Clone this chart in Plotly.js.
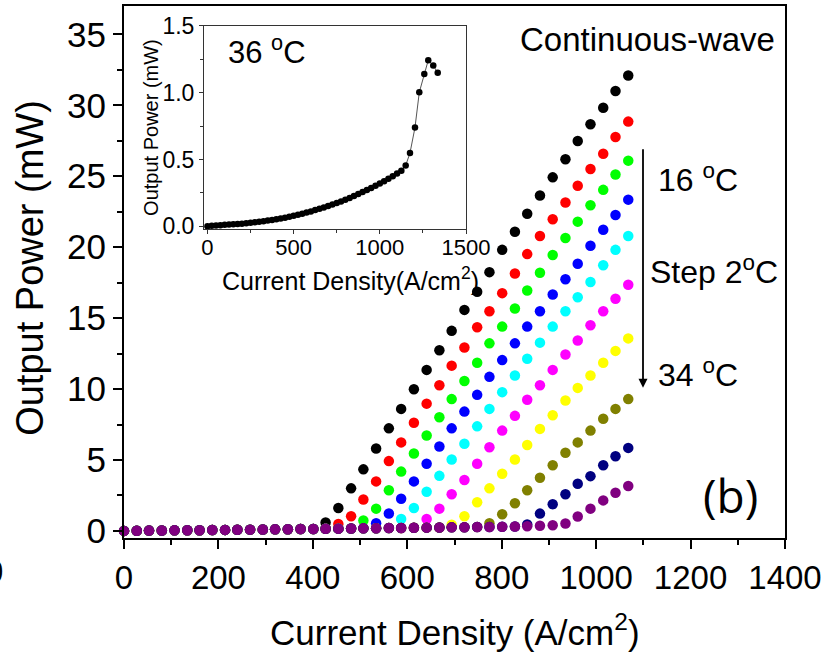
<!DOCTYPE html>
<html>
<head>
<meta charset="utf-8">
<script src="https://cdn.plot.ly/plotly-3.0.1.min.js"></script>
<style>html,body{margin:0;padding:0;background:#fff;}#plot{width:835px;height:653px;}</style>
</head>
<body>
<div id="plot"></div>
<script>
// Current density grid (A/cm^2)
var currentDensity = [0,27,53,80,107,134,160,187,214,240,267,294,320,347,374,401,427,454,481,507,534,561,587,614,641,668,694,721,748,774,801,828,854,881,908,935,961,988,1015,1041,1068];

var temperatures = ["16 °C","18 °C","20 °C","22 °C","24 °C","26 °C","28 °C","30 °C","32 °C","34 °C"];

var p16 = [0,0.01,0.02,0.03,0.04,0.05,0.05,0.06,0.07,0.08,0.09,0.10,0.11,0.12,0.13,0.14,0.59,1.62,3.00,4.34,5.81,7.23,8.60,9.98,11.35,12.73,14.10,15.58,16.86,18.24,19.81,21.09,22.36,23.64,24.92,26.20,27.48,28.66,29.83,31.01,32.10];
var p18 = [0,0.01,0.02,0.03,0.04,0.05,0.05,0.06,0.07,0.08,0.09,0.10,0.11,0.12,0.13,0.14,0.15,0.49,1.03,2.21,3.49,4.92,6.24,7.62,8.97,10.27,11.65,12.93,14.35,15.48,16.76,18.14,19.51,20.79,21.97,23.15,24.33,25.51,26.59,27.77,28.85];
var p20 = [0,0.01,0.02,0.03,0.04,0.05,0.05,0.06,0.07,0.08,0.09,0.10,0.11,0.12,0.13,0.14,0.15,0.16,0.17,0.74,1.57,2.86,4.18,5.46,6.73,8.01,9.29,10.57,11.85,13.22,14.40,15.68,16.95,18.20,19.45,20.65,21.80,22.95,24.04,25.12,26.10];
var p22 = [0,0.01,0.02,0.03,0.04,0.05,0.05,0.06,0.07,0.08,0.09,0.10,0.11,0.12,0.13,0.14,0.15,0.16,0.17,0.18,0.54,1.23,2.27,3.49,4.73,5.95,7.23,8.41,9.59,10.86,12.04,13.22,14.40,15.48,16.66,17.74,18.83,20.10,21.23,22.27,23.35];
var p24 = [0,0.01,0.02,0.03,0.04,0.05,0.05,0.06,0.07,0.08,0.09,0.10,0.11,0.12,0.13,0.14,0.15,0.16,0.17,0.18,0.19,0.20,0.84,1.62,2.76,3.88,5.03,6.14,7.37,8.60,9.78,10.96,12.14,13.27,14.40,15.48,16.47,17.55,18.73,19.81,20.79];
var p26 = [0,0.01,0.02,0.03,0.04,0.05,0.05,0.06,0.07,0.08,0.09,0.10,0.11,0.12,0.13,0.14,0.15,0.16,0.17,0.18,0.19,0.20,0.21,0.22,0.84,1.57,2.58,3.59,4.73,5.90,7.07,8.11,9.25,10.27,11.35,12.44,13.42,14.50,15.48,16.37,17.35];
var p28 = [0,0.01,0.02,0.03,0.04,0.05,0.05,0.06,0.07,0.08,0.09,0.10,0.11,0.12,0.13,0.14,0.15,0.16,0.17,0.18,0.19,0.20,0.21,0.22,0.23,0.24,0.44,1.03,2.02,3.00,4.03,5.03,6.05,7.19,8.15,9.19,10.08,10.96,11.85,12.69,13.57];
var p30 = [0,0.01,0.02,0.03,0.04,0.05,0.05,0.06,0.07,0.08,0.09,0.10,0.11,0.12,0.13,0.14,0.15,0.16,0.17,0.18,0.19,0.20,0.21,0.22,0.23,0.24,0.25,0.26,0.27,0.54,1.17,1.95,2.86,3.75,4.63,5.51,6.24,7.07,7.91,8.60,9.29];
var p32 = [0,0.01,0.02,0.03,0.04,0.05,0.05,0.06,0.07,0.08,0.09,0.10,0.11,0.12,0.13,0.14,0.15,0.16,0.17,0.18,0.19,0.20,0.21,0.22,0.23,0.24,0.25,0.26,0.27,0.28,0.29,0.31,0.45,1.22,1.88,2.58,3.32,3.86,4.63,5.26,5.85];
var p34 = [0,0.01,0.02,0.03,0.04,0.05,0.05,0.06,0.07,0.08,0.09,0.10,0.11,0.12,0.13,0.14,0.15,0.16,0.17,0.18,0.19,0.20,0.21,0.22,0.23,0.24,0.25,0.26,0.27,0.28,0.29,0.31,0.33,0.36,0.40,0.52,1.01,1.57,2.15,2.69,3.16];

var seriesColors = ["#000000","#ff0000","#00ff00","#0000ff","#00ffff","#ff00ff","#ffff00","#808000","#000080","#800080"];

// Inset: 36 °C
var insetJ = [0,25,50,75,100,125,150,175,200,225,250,275,300,325,350,375,400,425,450,475,500,525,550,575,600,625,650,675,700,725,750,775,800,825,850,875,900,925,950,975,1000,1025,1050,1075,1100,1125,1150,1175,1204,1229,1258,1281,1310,1336];
var insetP = [0,0.003,0.006,0.008,0.010,0.012,0.014,0.017,0.019,0.022,0.025,0.029,0.033,0.037,0.042,0.047,0.052,0.058,0.064,0.071,0.078,0.086,0.094,0.102,0.111,0.121,0.130,0.140,0.151,0.162,0.174,0.186,0.199,0.212,0.226,0.241,0.256,0.271,0.287,0.303,0.320,0.337,0.355,0.374,0.394,0.416,0.455,0.548,0.739,1.003,1.140,1.244,1.204,1.149];

var xTicks = [0,200,400,600,800,1000,1200,1400];
var yTicks = [0,5,10,15,20,25,30,35];
var insetXTicks = [0,500,1000,1500];
var insetYTicks = [0,0.5,1.0,1.5];
var insetYTickText = ["0.0","0.5","1.0","1.5"];

var allP = [p16,p18,p20,p22,p24,p26,p28,p30,p32,p34];
var traces = [];
for (var i = 0; i < allP.length; i++) {
  traces.push({
    x: currentDensity, y: allP[i], type: 'scatter', mode: 'markers',
    name: temperatures[i], cliponaxis: false,
    marker: {color: seriesColors[i], size: 10.5, line: {width: 0}},
    xaxis: 'x', yaxis: 'y', showlegend: false
  });
}
traces.push({
  x: insetJ, y: insetP, type: 'scatter', mode: 'lines+markers',
  line: {color: '#555555', width: 1},
  marker: {color: '#000000', size: 6.5},
  xaxis: 'x2', yaxis: 'y2', showlegend: false, cliponaxis: false
});

var F = 'Liberation Sans, Arial, sans-serif';
var px = function(x){ return (x - 124) / 661; };
var py = function(y){ return (538.3 - y) / 532.3; };

var layout = {
  width: 835, height: 653,
  margin: {l: 124, r: 50, t: 6, b: 115},
  paper_bgcolor: '#fff', plot_bgcolor: '#fff',
  font: {family: F, color: '#000'},
  xaxis: {
    range: [0, 1400], tickvals: xTicks, ticks: 'outside', ticklen: 9, tickwidth: 2, tickcolor: '#000',
    showline: true, linewidth: 2, linecolor: '#000', mirror: true, showgrid: false, zeroline: false,
    tickfont: {size: 33, family: F}, minor: {tickvals: [100,300,500,700,900,1100,1300], ticks: 'outside', ticklen: 5, tickwidth: 2, tickcolor: '#000'}
  },
  yaxis: {
    range: [-0.5, 37], tickvals: yTicks, ticks: 'outside', ticklen: 9, tickwidth: 2, tickcolor: '#000',
    showline: true, linewidth: 2, linecolor: '#000', mirror: true, showgrid: false, zeroline: false,
    tickfont: {size: 35, family: F}, minor: {tickvals: [2.5,7.5,12.5,17.5,22.5,27.5,32.5], ticks: 'outside', ticklen: 5, tickwidth: 2, tickcolor: '#000'}
  },
  xaxis2: {
    domain: [px(204), px(466)], anchor: 'y2', range: [-20, 1500], tickvals: insetXTicks,
    ticks: 'outside', ticklen: 4, tickwidth: 1, tickcolor: '#333', ticklabelstandoff: -5,
    showline: true, linewidth: 1, linecolor: '#333', mirror: true, showgrid: false, zeroline: false,
    tickfont: {size: 22, family: F}, minor: {tickvals: [250,750,1250], ticks: 'outside', ticklen: 3, tickcolor: '#333'}
  },
  yaxis2: {
    domain: [py(229), py(26)], anchor: 'x2', range: [-0.02, 1.5], tickvals: insetYTicks, ticktext: insetYTickText,
    ticks: 'outside', ticklen: 4, tickwidth: 1, tickcolor: '#333',
    showline: true, linewidth: 1, linecolor: '#333', mirror: true, showgrid: false, zeroline: false,
    tickfont: {size: 23, family: F}, minor: {tickvals: [0.25,0.75,1.25], ticks: 'outside', ticklen: 3, tickcolor: '#333'}
  },
  annotations: [
    {xref: 'paper', yref: 'paper', x: px(455), y: py(630), text: 'Current Density (A/cm<sup>2</sup>)', showarrow: false, font: {size: 35, family: F}, xanchor: 'center', yanchor: 'middle'},
    {xref: 'paper', yref: 'paper', x: px(30), y: py(268), text: 'Output Power (mW)', textangle: -90, showarrow: false, font: {size: 38, family: F}, xanchor: 'center', yanchor: 'middle'},
    {xref: 'paper', yref: 'paper', x: px(647), y: py(40), text: 'Continuous-wave', showarrow: false, font: {size: 33, family: F}, xanchor: 'center', yanchor: 'middle'},
    {xref: 'paper', yref: 'paper', x: px(643), y: py(388), ax: 0, ay: -240, text: '', showarrow: true, arrowhead: 2, arrowsize: 1, arrowwidth: 1.8, arrowcolor: '#000'},
    {xref: 'paper', yref: 'paper', x: px(698), y: py(178), text: '16 <sup>o</sup>C', showarrow: false, font: {size: 32, family: F}, xanchor: 'center', yanchor: 'middle'},
    {xref: 'paper', yref: 'paper', x: px(714), y: py(270), text: 'Step 2<sup>o</sup>C', showarrow: false, font: {size: 32, family: F}, xanchor: 'center', yanchor: 'middle'},
    {xref: 'paper', yref: 'paper', x: px(698), y: py(373), text: '34 <sup>o</sup>C', showarrow: false, font: {size: 32, family: F}, xanchor: 'center', yanchor: 'middle'},
    {xref: 'paper', yref: 'paper', x: px(730), y: py(495), text: '(b)', showarrow: false, font: {size: 46, family: 'Open Sans, Lato, sans-serif'}, xanchor: 'center', yanchor: 'middle'},
    {xref: 'paper', yref: 'paper', x: px(267), y: py(50), text: '36 <sup>o</sup>C', showarrow: false, font: {size: 31, family: F}, xanchor: 'center', yanchor: 'middle'},
    {xref: 'paper', yref: 'paper', x: px(350), y: py(279), text: 'Current Density(A/cm<sup>2</sup>)', showarrow: false, font: {size: 25, family: F}, xanchor: 'center', yanchor: 'middle'},
    {xref: 'paper', yref: 'paper', x: px(151), y: py(128), text: 'Output Power (mW)', textangle: -90, showarrow: false, font: {size: 20, family: F}, xanchor: 'center', yanchor: 'middle'},
    {xref: 'paper', yref: 'paper', x: px(-6), y: py(572), text: '0', showarrow: false, font: {size: 33, family: F}, xanchor: 'center', yanchor: 'middle'}
  ]
};

Plotly.newPlot('plot', traces, layout, {staticPlot: true, displayModeBar: false});
</script>
</body>
</html>
